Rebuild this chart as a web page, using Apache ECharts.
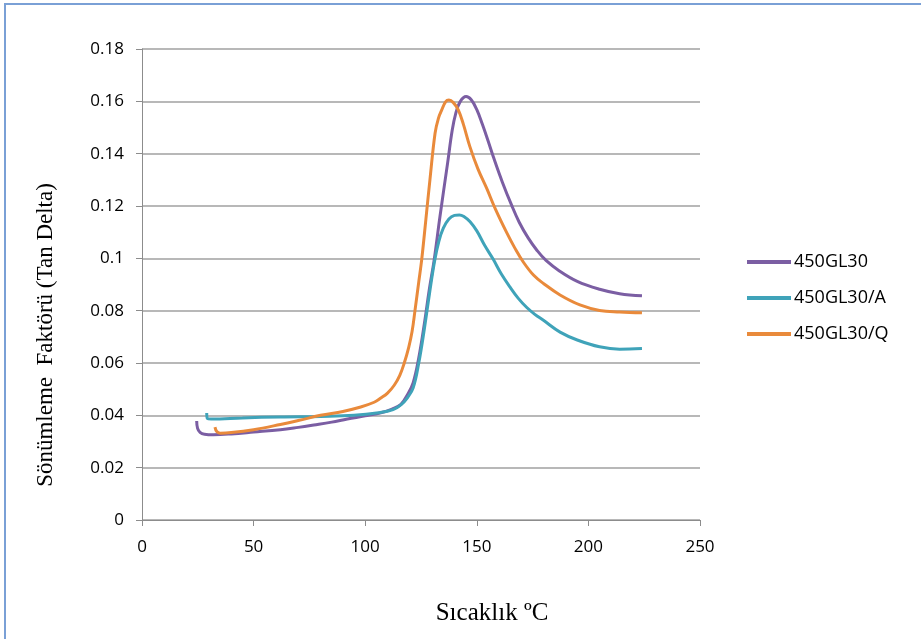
<!DOCTYPE html>
<html>
<head>
<meta charset="utf-8">
<script src="https://cdn.jsdelivr.net/npm/echarts@6/dist/echarts.min.js"></script>
<style>
  html, body { margin: 0; padding: 0; background: #fff; }
  #chart { width: 921px; height: 639px; }
</style>
</head>
<body>
<div id="chart"></div>
<script>
// values: [temperature °C, tan delta]
const seriesNames = ['450GL30', '450GL30/A', '450GL30/Q'];
const seriesColors = ['#7b5ea3', '#3fa3b9', '#e98a3b'];

const gl30 = [
  [24.5, 0.0378], [24.9, 0.0350], [26, 0.0335], [28, 0.0328], [32, 0.0326],
  [40, 0.0329], [50, 0.0336], [62, 0.0345], [70, 0.0354], [77, 0.0363],
  [85, 0.0374], [92, 0.0386], [100, 0.0398], [107, 0.0410], [112, 0.0424],
  [116, 0.0442], [119, 0.0480], [121.5, 0.0525], [124, 0.0620], [126.5, 0.0750],
  [128.7, 0.0880], [130.9, 0.0994], [133.5, 0.1160], [136.9, 0.1363], [139, 0.1490],
  [140.6, 0.1555], [142.5, 0.1598], [145.2, 0.1618], [147.5, 0.1606], [150, 0.1568],
  [152.5, 0.1512], [155, 0.1450], [157.4, 0.1388], [161.5, 0.1290], [165.5, 0.1205],
  [169, 0.1138], [173, 0.1078], [177, 0.1030], [181, 0.0992], [187, 0.0952],
  [195, 0.0912], [205, 0.0882], [214, 0.0865], [224, 0.0857]
];

const gl30A = [
  [29, 0.0409], [29.3, 0.0388], [31, 0.0386], [45, 0.0390], [62, 0.0394],
  [80, 0.0396], [95, 0.0400], [106, 0.0410], [112.5, 0.0422], [116, 0.0440],
  [119, 0.0468], [121.5, 0.0505], [124, 0.0600], [126.5, 0.0730], [128.8, 0.0865],
  [131.1, 0.0990], [133, 0.1065], [135, 0.1115], [137.5, 0.1150], [140, 0.1164],
  [142.2, 0.1166], [144.5, 0.1158], [147, 0.1140], [150, 0.1105], [153.5, 0.1050],
  [157.3, 0.0997], [161, 0.0940], [164.9, 0.0890], [168.5, 0.0848], [172.4, 0.0812],
  [176, 0.0786], [179.7, 0.0764], [187.3, 0.0718], [195, 0.0688], [205, 0.0662],
  [214, 0.0653], [224, 0.0655]
];

const gl30Q = [
  [32.7, 0.0355], [33.5, 0.0338], [35, 0.0332], [40, 0.0334], [50, 0.0345],
  [62, 0.0365], [70, 0.0380], [80, 0.0400], [90, 0.0415], [98, 0.0432],
  [104, 0.0450], [107, 0.0466], [110, 0.0485], [113, 0.0515], [115.5, 0.0553],
  [117.5, 0.0600], [119.5, 0.0660], [121, 0.0720], [122.3, 0.0800], [124, 0.0910],
  [125.3, 0.0994], [127.2, 0.1150], [129, 0.1300], [131.3, 0.1478], [132.8, 0.1535],
  [134.3, 0.1567], [136, 0.1598], [137.5, 0.1605], [139.5, 0.1595], [141.7, 0.1567],
  [144, 0.1512], [146.9, 0.1427], [150.5, 0.1342], [154.4, 0.1268], [158.5, 0.1185],
  [163.4, 0.1098], [167, 0.1040], [170.9, 0.0985], [175.5, 0.0935], [180, 0.0903],
  [187.3, 0.0860], [196.2, 0.0822], [205, 0.0801], [214, 0.0795], [224, 0.0792]
];

const xTicks = { min: 0, max: 250, interval: 50 };
const yTicks = { min: 0, max: 0.18, interval: 0.02 };

const chart = echarts.init(document.getElementById('chart'));

const makeSeries = (name, data, color) => ({
  name,
  type: 'line',
  data,
  smooth: 0.4,
  showSymbol: false,
  lineStyle: { width: 3, color },
  itemStyle: { color },
});

chart.setOption({
  animation: false,
  backgroundColor: '#fff',
  grid: { left: 142, right: 221, top: 49, bottom: 119 },
  graphic: [
    {
      type: 'rect',
      shape: { x: 5, y: 4, width: 1000, height: 1000 },
      style: { fill: 'none', stroke: '#7aa0d6', lineWidth: 2 },
    },
    {
      type: 'text',
      x: 492, y: 613,
      style: {
        text: 'Sıcaklık ºC',
        font: '25px "Liberation Serif", serif',
        fill: '#000',
        align: 'center', verticalAlign: 'middle',
      },
    },
    {
      type: 'text',
      x: 46, y: 335,
      rotation: Math.PI / 2,
      style: {
        text: 'Sönümleme  Faktörü (Tan Delta)',
        font: '23px "Liberation Serif", serif',
        fill: '#000',
        align: 'center', verticalAlign: 'middle',
      },
    },
  ],
  legend: {
    orient: 'vertical',
    left: 742,
    top: 248,
    itemWidth: 44,
    itemHeight: 4,
    itemGap: 18,
    icon: 'rect',
    data: seriesNames,
    textStyle: { fontFamily: 'Open Sans', fontSize: 18, color: '#000', padding: [0, 0, 0, -2] },
  },
  xAxis: {
    type: 'value',
    min: xTicks.min, max: xTicks.max, interval: xTicks.interval,
    axisLine: { show: true, lineStyle: { color: '#8c8c8c' } },
    axisTick: { show: true, length: 6, lineStyle: { color: '#8c8c8c' } },
    axisLabel: { margin: 19, fontFamily: 'Open Sans', fontSize: 17, color: '#000' },
    splitLine: { show: false },
  },
  yAxis: {
    type: 'value',
    min: yTicks.min, max: yTicks.max, interval: yTicks.interval,
    axisLine: { show: true, lineStyle: { color: '#8c8c8c' } },
    axisTick: { show: true, length: 6, lineStyle: { color: '#8c8c8c' } },
    axisLabel: {
      margin: 18, fontFamily: 'Open Sans', fontSize: 17, color: '#000',
      formatter: v => (v === 0 ? '0' : String(+v.toFixed(2))),
    },
    splitLine: { show: true, lineStyle: { color: '#a0a0a0', width: 1.5 } },
  },
  series: [
    makeSeries(seriesNames[0], gl30, seriesColors[0]),
    makeSeries(seriesNames[1], gl30A, seriesColors[1]),
    makeSeries(seriesNames[2], gl30Q, seriesColors[2]),
  ],
});
</script>
</body>
</html>
